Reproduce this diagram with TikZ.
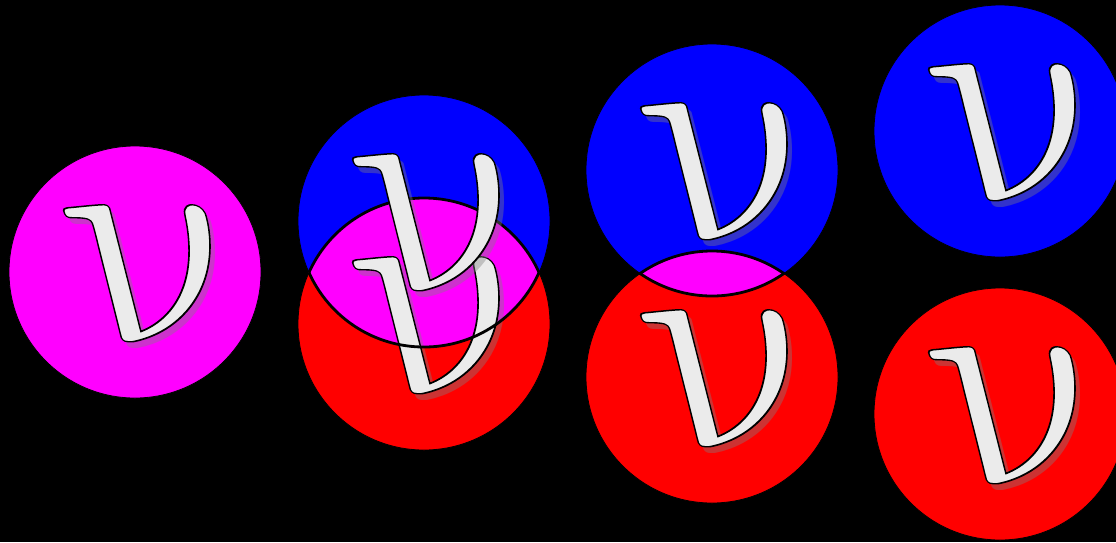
\documentclass[tikz,border=0pt]{standalone}
\usepackage{graphicx}
\usepackage{fontspec}
\definecolor{nugray}{HTML}{EBEBEB}
\definecolor{cmag}{HTML}{FF00FF}
\definecolor{cblue}{HTML}{0000FF}
\definecolor{cred}{HTML}{FF0000}
\newcommand\outlinedtext[1]{\special{pdf:literal direct 0 G 2 Tr 0.046 w}#1\special{pdf:literal direct 0 Tr}}
\newcommand\bignu{\scalebox{31}{$\nu$}}
\newcommand\bignuline{\scalebox{31}{\outlinedtext{$\nu$}}}
\tikzset{
  nuglyph/.style={inner sep=0pt, text=nugray, transform shape},
  nushade/.style={inner sep=0pt, text=gray, text opacity=0.4, transform shape},
  disc/.style={draw=black, line width=0.8pt},
  lensline/.style={draw=black, line width=2.8pt},
  upright/.style={xslant=-0.5},
}
\newcommand\nuat[2]{%
  \begin{scope}[shift={([xshift=31pt,yshift=-10pt]#2)}, upright]
    \node[nushade] (#1s) at (0,0) {\bignu};
  \end{scope}
  \begin{scope}[shift={([xshift=25pt,yshift=-3pt]#2)}, upright]
    \node[nuglyph] (#1) at (0,0) {\bignuline};
  \end{scope}
}
\begin{document}
\begin{tikzpicture}[x=1pt,y=-1pt]
\fill[black] (0,0) rectangle (1116,542);
\useasboundingbox (0,0) rectangle (1116,542);
% centres
\coordinate (m1) at (135,272);
\coordinate (b2) at (424,221);
\coordinate (r2) at (424,324);
\coordinate (b3) at (712,170);
\coordinate (r3) at (712,377);
\coordinate (b4) at (1000,131);
\coordinate (r4) at (1000,414);
% single magenta
\fill[cmag, disc] (m1) circle[radius=126];
\nuat{n1}{m1}
% pair 2
\fill[cblue, disc] (b2) circle[radius=126];
\fill[cred, disc] (r2) circle[radius=126];
\begin{scope}
  \clip (b2) circle[radius=126];
  \fill[cmag] (r2) circle[radius=126];
  \draw[lensline] (r2) circle[radius=126];
\end{scope}
\nuat{n2r}{r2}
\nuat{n2b}{b2}
\begin{scope}
  \clip (r2) circle[radius=126];
  \draw[lensline] (b2) circle[radius=126];
\end{scope}
% pair 3
\fill[cblue, disc] (b3) circle[radius=126];
\fill[cred, disc] (r3) circle[radius=126];
\begin{scope}
  \clip (b3) circle[radius=126];
  \fill[cmag] (r3) circle[radius=126];
  \draw[lensline] (r3) circle[radius=126];
\end{scope}
\begin{scope}
  \clip (r3) circle[radius=126];
  \draw[lensline] (b3) circle[radius=126];
\end{scope}
\nuat{n3b}{b3}
\nuat{n3r}{r3}
% pair 4
\fill[cblue, disc] (b4) circle[radius=126];
\fill[cred, disc] (r4) circle[radius=126];
\nuat{n4b}{b4}
\nuat{n4r}{r4}
\end{tikzpicture}
\end{document}
